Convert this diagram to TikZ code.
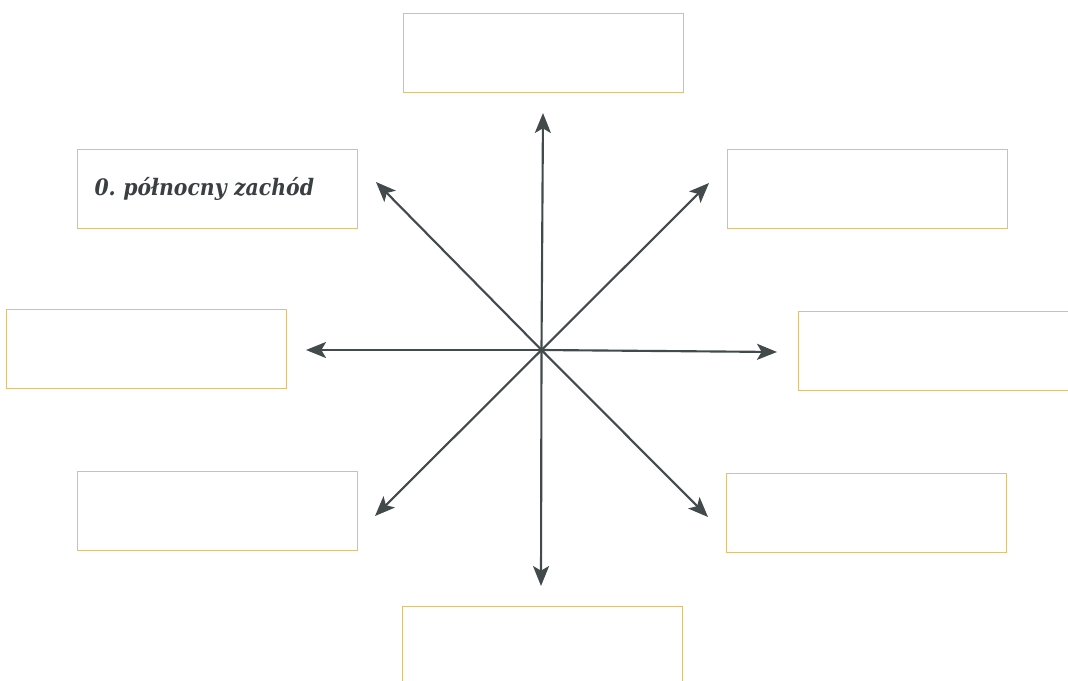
\documentclass[tikz,border=0pt]{standalone}
\usepackage{fontspec}
\setmainfont{DejaVu Serif}
\newfontfamily\labelfont[FakeStretch=0.9]{DejaVu Serif}
\usetikzlibrary{arrows.meta}
\definecolor{boxline}{HTML}{E3BE80}
\definecolor{arrowgray}{HTML}{434A4B}
\definecolor{textgray}{HTML}{3A3F42}
\tikzset{
  answerbox/.style={draw=boxline, line width=0.7pt, fill=white, minimum width=210pt, minimum height=59.25pt, inner sep=0pt},
  dirarrow/.style={draw=arrowgray, line width=1.6pt, -{Stealth[length=15pt, width=12pt, inset=3.5pt]}}
}
\begin{document}
\begin{tikzpicture}[x=0.75pt, y=-0.75pt]
\useasboundingbox (0,0) rectangle (1068,681);
\fill[white] (0,0) rectangle (1068,681);
% boxes
\node[answerbox] (bn)  at (543,53)   {};
\node[answerbox, text width=184.5pt, inner xsep=12.75pt, align=left, font=\labelfont\bfseries\itshape\fontsize{17}{20}\selectfont\frenchspacing, text=textgray] (bnw) at (217.5,188.5) {0. północny zachód};
\node[answerbox] (bne) at (867,188.5) {};
\node[answerbox] (bw)  at (146.5,348.5) {};
\node[answerbox] (be)  at (938,351)  {};
\node[answerbox] (bsw) at (217,510.5) {};
\node[answerbox] (bse) at (866.5,513) {};
\node[answerbox] (bs)  at (542,646)  {};
% arrows
\coordinate (c) at (541.5,350);
\coordinate (tn)  at (543,113);
\coordinate (tne) at (709,183);
\coordinate (te)  at (777,352);
\coordinate (tse) at (708,517);
\coordinate (ts)  at (541,586);
\coordinate (tsw) at (375,516);
\coordinate (tw)  at (306,350);
\coordinate (tnw) at (376,182);
\foreach \t in {tn,tne,te,tse,ts,tsw,tw,tnw}
  \draw[dirarrow] (c) -- (\t);
\end{tikzpicture}
\end{document}
